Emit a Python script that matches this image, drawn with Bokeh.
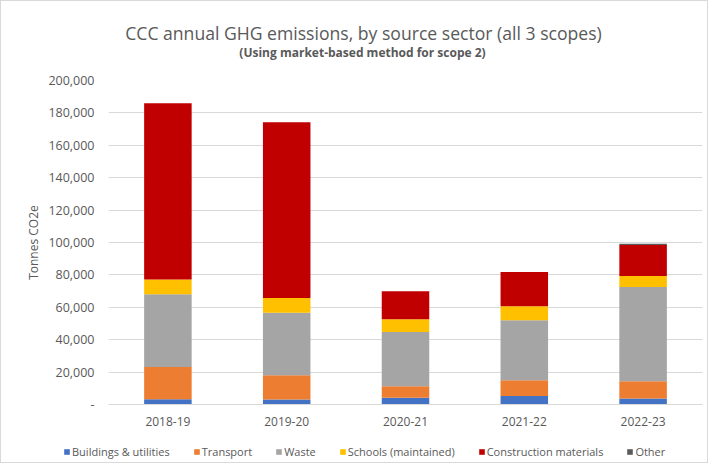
from bokeh.plotting import figure
from bokeh.layouts import column, row
from bokeh.models import (Range1d, FixedTicker, NumeralTickFormatter, Label,
                          Legend, LegendItem)
from bokeh.embed import file_html
from bokeh.resources import INLINE

years = ["2018-19", "2019-20", "2020-21", "2021-22", "2022-23"]
series = ["Buildings & utilities", "Transport", "Waste",
          "Schools (maintained)", "Construction materials", "Other"]
buildings = [3300, 3100, 4100, 5300, 3700]
transport = [19900, 15000, 7200, 9700, 10700]
waste = [44800, 38600, 33500, 37000, 58100]
schools = [9200, 9000, 7800, 8600, 6800]
construction = [108800, 108500, 17300, 21200, 19200]
other = [0, 0, 0, 0, 800]
y_ticks = list(range(0, 200001, 20000))

title_text = "CCC annual GHG emissions, by source sector (all 3 scopes)"
subtitle_text = "(Using market-based method for scope 2)"

colors = ["#4472C4", "#ED7D31", "#A5A5A5", "#FFC000", "#C00000", "#5A5A5A"]
FONT = "Open Sans"
TXT = "#595959"
W = 706

data = {"year": years}
keys = ["b", "t", "w", "s", "c", "o"]
for k, v in zip(keys, [buildings, transport, waste, schools, construction, other]):
    data[k] = v


def bare(fig):
    fig.axis.visible = False
    fig.grid.grid_line_color = None
    fig.outline_line_color = None


# ---- title strip ----
top = figure(width=W, height=72, output_backend="svg", toolbar_location=None,
             x_range=Range1d(0, W), y_range=Range1d(72, 0),
             min_border=0)
bare(top)
top.add_layout(Label(x=362, y=31.5, text=title_text, text_align="center",
                     text_baseline="middle", text_font=FONT,
                     text_font_size="17.6px", text_color=TXT))
top.add_layout(Label(x=361, y=50.5, text=subtitle_text, text_align="center",
                     text_baseline="middle", text_font=FONT,
                     text_font_size="12px", text_font_style="bold",
                     text_color=TXT))

# ---- main chart ----
p = figure(x_range=years, width=W, height=364, output_backend="svg",
           toolbar_location=None, min_border_left=107, min_border_right=5,
           min_border_top=7, min_border_bottom=33)
p.y_range = Range1d(0, 200000)
p.vbar_stack(keys, x="year", width=0.4, color=colors, source=data,
             line_color=None)

p.yaxis.ticker = FixedTicker(ticks=y_ticks)
p.yaxis.formatter = NumeralTickFormatter(format="0,0")
p.yaxis.major_label_overrides = {0: "-"}
p.yaxis.axis_label = "Tonnes CO2e"
p.yaxis.axis_label_text_font = FONT
p.yaxis.axis_label_text_font_size = "12px"
p.yaxis.axis_label_text_font_style = "normal"
p.yaxis.axis_label_text_color = TXT
p.yaxis.axis_label_standoff = 3
p.yaxis.axis_line_color = None
p.yaxis.major_tick_line_color = None
p.yaxis.minor_tick_line_color = None
p.yaxis.major_tick_out = 0
p.yaxis.major_tick_in = 0
p.yaxis.major_label_standoff = 14

for ax in [p.xaxis, p.yaxis]:
    ax.major_label_text_font = FONT
    ax.major_label_text_color = TXT
p.yaxis.major_label_text_font_size = "12.5px"
p.xaxis.major_label_text_font_size = "12px"

p.xaxis.axis_line_color = "#D9D9D9"
p.xaxis.major_tick_line_color = None
p.xaxis.minor_tick_line_color = None
p.xaxis.major_tick_out = 0
p.xaxis.major_tick_in = 0
p.xaxis.major_label_standoff = 12

p.xgrid.grid_line_color = None
p.ygrid.grid_line_color = "#D9D9D9"
p.outline_line_color = None
p.x_range.range_padding = 0

# ---- legend strip: same stacks, viewed in a y window that lies above them ----
lg = figure(x_range=years, y_range=Range1d(400000, 500000), width=W, height=25,
            output_backend="svg", toolbar_location=None, min_border=0)
bare(lg)
lrs = lg.vbar_stack(keys, x="year", width=0.4, color=colors, source=data,
                    line_color=None)
items = [LegendItem(label=lab, renderers=[r]) for lab, r in zip(series, lrs)]
legend = Legend(items=items, orientation="horizontal", location=(62, 3),
                label_text_font=FONT, label_text_font_size="11px",
                label_text_color=TXT, glyph_width=7, glyph_height=7,
                label_standoff=2, spacing=23, padding=0, margin=0,
                border_line_color=None, background_fill_alpha=0,
                label_height=14)
lg.add_layout(legend, "center")

layout = column(row(top), p, row(lg), spacing=0)
layout.styles = {"border": "1px solid #D9D9D9"}

open("out.html", "w").write(file_html(layout, INLINE))
